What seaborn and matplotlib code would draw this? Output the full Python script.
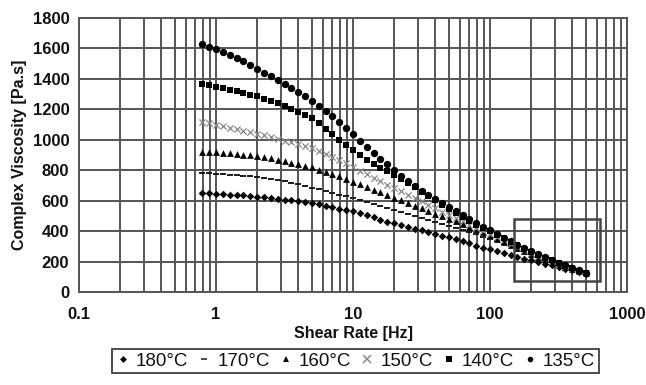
import numpy as np
import pandas as pd
import matplotlib
matplotlib.use("Agg")
import matplotlib.pyplot as plt
import seaborn as sns
from matplotlib.lines import Line2D
from matplotlib.patches import Rectangle

# ---------------- data ----------------
shear_rate = [0.794, 0.891, 1.0, 1.122, 1.259, 1.413, 1.585, 1.778, 1.995, 2.239,
              2.512, 2.818, 3.162, 3.548, 3.981, 4.467, 5.012, 5.623, 6.310, 7.079,
              7.943, 8.913, 10.0, 11.22, 12.59, 14.13, 15.85, 17.78, 19.95, 22.39,
              25.12, 28.18, 31.62, 35.48, 39.81, 44.67, 50.12, 56.23, 63.10, 70.79,
              79.43, 89.13, 100.0, 112.2, 125.9, 141.3, 158.5, 177.8, 199.5, 223.9,
              251.2, 281.8, 316.2, 354.8, 398.1, 446.7, 501.2]

visc_135 = [1630, 1612, 1595, 1575, 1555, 1535, 1515, 1490, 1462, 1440,
            1418, 1392, 1365, 1338, 1312, 1285, 1258, 1225, 1192, 1158,
            1120, 1077, 1035, 995, 955, 915, 875, 838, 800, 765,
            730, 697, 665, 637, 610, 583, 557, 531, 505, 480,
            455, 430, 405, 380, 356, 333, 310, 288, 267, 247,
            228, 210, 192, 175, 158, 142, 126]

visc_140 = [1365, 1357, 1348, 1338, 1328, 1318, 1307, 1296, 1285, 1271,
            1256, 1240, 1222, 1203, 1183, 1163, 1143, 1108, 1072, 1036,
            1000, 965, 930, 897, 865, 840, 815, 792, 768, 742,
            715, 688, 660, 631, 603, 574, 545, 518, 492, 467,
            443, 420, 398, 375, 352, 330, 307, 285, 264, 244,
            225, 207, 189, 172, 155, 139, 124]

visc_150 = [1120, 1110, 1100, 1090, 1080, 1070, 1060, 1050, 1040, 1029,
            1018, 1007, 995, 983, 970, 958, 945, 926, 907, 888,
            868, 846, 822, 797, 773, 750, 728, 706, 684, 662,
            640, 617, 595, 572, 550, 528, 506, 485, 464, 443,
            422, 401, 381, 360, 339, 318, 297, 277, 258, 239,
            221, 204, 187, 170, 154, 138, 123]

visc_160 = [923, 920, 917, 913, 910, 906, 902, 898, 893, 886,
            878, 869, 860, 850, 840, 829, 818, 803, 788, 774,
            760, 742, 725, 708, 690, 672, 655, 638, 620, 602,
            585, 568, 550, 532, 515, 497, 480, 464, 448, 430,
            412, 393, 372, 351, 330, 309, 289, 269, 250, 232,
            215, 199, 183, 167, 152, 137, 122]

visc_170 = [785, 782, 778, 774, 770, 768, 765, 761, 757, 751,
            745, 737, 728, 718, 707, 696, 685, 674, 662, 651,
            640, 628, 617, 606, 594, 580, 565, 552, 538, 525,
            512, 498, 485, 473, 460, 446, 432, 419, 405, 392,
            378, 364, 350, 334, 318, 302, 285, 268, 250, 234,
            218, 202, 185, 168, 152, 136, 121]

visc_180 = [650, 648, 645, 643, 640, 637, 634, 631, 627, 623,
            618, 613, 607, 602, 596, 590, 583, 575, 566, 557,
            548, 539, 530, 518, 505, 490, 475, 462, 450, 439,
            428, 417, 405, 394, 382, 371, 360, 348, 335, 320,
            305, 292, 280, 268, 255, 242, 230, 218, 207, 196,
            185, 175, 165, 154, 143, 132, 120]

series_labels = ["180°C", "170°C", "160°C", "150°C", "140°C", "135°C"]
x_ticks = [0.1, 1, 10, 100, 1000]
x_tick_labels = ["0.1", "1", "10", "100", "1000"]
y_ticks = [0, 200, 400, 600, 800, 1000, 1200, 1400, 1600, 1800]
zoom_box_x = [150, 630]
zoom_box_y = [70, 480]

# ---------------- build long table ----------------
values = {"180°C": visc_180, "170°C": visc_170, "160°C": visc_160,
          "150°C": visc_150, "140°C": visc_140, "135°C": visc_135}
df = pd.concat([pd.DataFrame({"rate": shear_rate, "visc": v, "T": k})
                for k, v in values.items()], ignore_index=True)

sns.set_style("white")
plt.rcParams["font.family"] = ["Liberation Sans", "DejaVu Sans"]

fig = plt.figure(figsize=(6.46, 3.85), dpi=100)
ax = fig.add_axes([0.1223, 0.2416, 0.8483, 0.7116])

styles = {
    "180°C": dict(marker="D", s=15, color="#050505", edgecolor="#050505", linewidth=0),
    "170°C": dict(marker="_", s=20, color="#1a1a1a", linewidth=1.4),
    "160°C": dict(marker="^", s=24, color="#050505", edgecolor="#050505", linewidth=0),
    "150°C": dict(marker="x", s=20, color="#888888", linewidth=0.9),
    "140°C": dict(marker="s", s=22, color="#000000", edgecolor="#000000", linewidth=0),
    "135°C": dict(marker="o", s=28, color="#000000", edgecolor="#000000", linewidth=0),
}
for lab in series_labels:
    sub = df[df["T"] == lab]
    sns.scatterplot(data=sub, x="rate", y="visc", ax=ax, legend=False,
                    zorder=3, **styles[lab])

ax.set_xscale("log")
ax.set_xlim(0.1, 1000)
ax.set_ylim(0, 1800)
ax.set_xticks(x_ticks)
ax.set_xticklabels(x_tick_labels)
ax.set_yticks(y_ticks)
ax.set_yticklabels([str(t) for t in y_ticks])

gc = "#555555"
ax.grid(True, which="both", axis="x", color=gc, lw=1.4)
ax.grid(True, which="major", axis="y", color=gc, lw=1.4)
ax.set_axisbelow(True)
for sp in ax.spines.values():
    sp.set_color(gc)
    sp.set_linewidth(1.4)

ax.tick_params(axis="both", which="major", direction="out", length=4, width=1.4,
               color=gc, labelsize=12, labelcolor="#111111")
ax.tick_params(axis="y", which="major", pad=3)
ax.tick_params(axis="x", which="major", pad=7)
ax.tick_params(axis="x", which="minor", length=0)
for lbl in ax.get_xticklabels() + ax.get_yticklabels():
    lbl.set_fontweight("bold")

ax.set_xlabel("Shear Rate [Hz]", fontsize=11.5, fontweight="bold", color="#111111", labelpad=3)
ax.set_ylabel("Complex Viscosity [Pa.s]", fontsize=11.5, fontweight="bold", color="#111111", labelpad=4)

ax.add_patch(Rectangle((zoom_box_x[0], zoom_box_y[0]),
                       zoom_box_x[1] - zoom_box_x[0], zoom_box_y[1] - zoom_box_y[0],
                       fill=False, edgecolor="#444444", lw=1.8, zorder=4))

handles = []
for lab in series_labels:
    st = styles[lab]
    mk = st["marker"]
    ms = {"D": 3.5, "_": 5, "^": 4.5, "x": 5.5, "s": 4, "o": 4}[mk]
    handles.append(Line2D([], [], linestyle="none", marker=mk, markersize=ms,
                          color=st["color"], markeredgewidth=1.1 if mk in "x_" else 0))
leg = ax.legend(handles, series_labels, ncol=6, loc="center",
                bbox_to_anchor=(0.505, -0.252), frameon=True, fancybox=False,
                edgecolor="#111111", fontsize=13.5, handlelength=0.7,
                handletextpad=0.35, columnspacing=0.5, borderpad=0.2,
                borderaxespad=0)
leg.get_frame().set_linewidth(1.3)
for t in leg.get_texts():
    t.set_color("#111111")

fig.savefig("out.png", dpi=100)
